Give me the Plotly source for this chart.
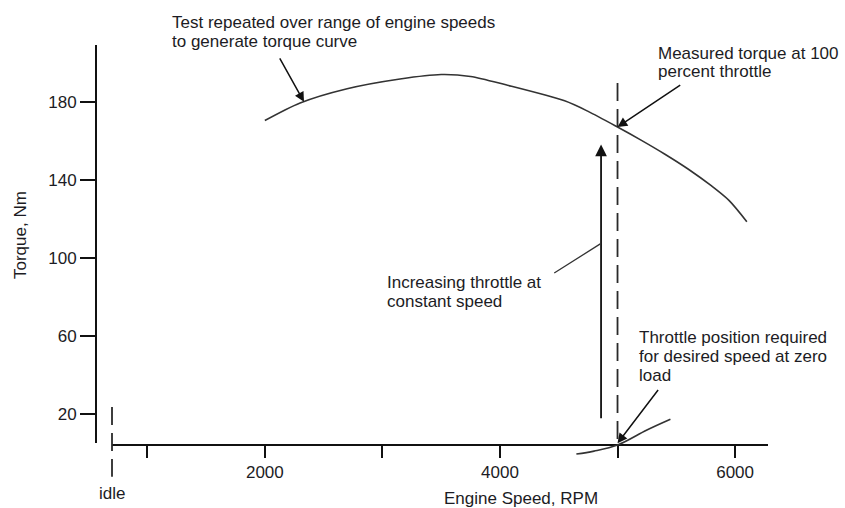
import plotly.graph_objects as go

# ---------------- data ----------------
speed_rpm = [2000, 2300, 2700, 3150, 3500, 3750, 4050, 4550, 4750, 5000, 5200, 5400, 5600, 5800, 5950, 6100]
torque_nm = [170.3, 179.3, 186.6, 191.6, 193.9, 192.9, 188.6, 180.4, 175.0, 167.0, 160.3, 153.2, 145.5, 136.8, 129.3, 118.5]

zero_load_rpm = [4650, 4800, 5000, 5250, 5450]
zero_load_nm = [-0.5, 1.0, 4.1, 11.8, 17.3]

idle_rpm = 700
idle_line_nm = [23.6, -12.1]
test_speed_rpm = 5000
test_line_nm = [189.5, 4.1]
throttle_arrow_rpm = 4860
throttle_arrow_nm = [17.0, 158.0]
measured_torque_nm = 167.0
zero_load_point_nm = 5.0
curve_arrow_rpm = 2333
curve_arrow_nm = 179.9

x_tick_vals = [1000, 2000, 3000, 4000, 5000, 6000]
x_tick_text = ["", "2000", "", "4000", "", "6000"]
y_tick_vals = [20, 60, 100, 140, 180]

# ---------------- geometry ----------------
W, H = 845, 508
XL, XR = 112, 768          # x-axis line extent (px)
XY = 445                   # x-axis line height (px)
YX = 96                    # y-axis line x (px)
YT, YB = 45, 443.3         # y-axis line extent (px)
X_RANGE = [700, 6280]
Y_RANGE = [5, 209]

sx = (XR - XL) / (X_RANGE[1] - X_RANGE[0])
sy = (YB - YT) / (Y_RANGE[1] - Y_RANGE[0])
x2_range = [X_RANGE[0] - XL / sx, X_RANGE[1] + (W - XR) / sx]
y2_range = [Y_RANGE[0] - (H - YB) / sy, Y_RANGE[1] + YT / sy]

def px(x):
    return x / W

def py(y):
    return 1 - y / H

INK = "#1c1c24"
LINE = "#2a2a2a"
FONT = "Liberation Sans, Arial, sans-serif"
FS = 17

fig = go.Figure()

# dummy trace to register the visible axes
fig.add_trace(go.Scatter(x=[None], y=[None], xaxis="x", yaxis="y",
                         showlegend=False, hoverinfo="skip"))

# torque curve
fig.add_trace(go.Scatter(x=speed_rpm, y=torque_nm, mode="lines", xaxis="x2", yaxis="y2",
                         line=dict(color="#333333", width=1.6, shape="spline", smoothing=0.8),
                         showlegend=False, hoverinfo="skip"))
# zero load throttle curve
fig.add_trace(go.Scatter(x=zero_load_rpm, y=zero_load_nm, mode="lines", xaxis="x2", yaxis="y2",
                         line=dict(color="#333333", width=1.6, shape="spline"),
                         showlegend=False, hoverinfo="skip"))
# idle dashed line
fig.add_trace(go.Scatter(x=[idle_rpm, idle_rpm], y=idle_line_nm, mode="lines", xaxis="x2", yaxis="y2",
                         line=dict(color=LINE, width=1.8, dash="18px,8px"),
                         showlegend=False, hoverinfo="skip"))
# dashed line at test speed
fig.add_trace(go.Scatter(x=[test_speed_rpm, test_speed_rpm], y=test_line_nm, mode="lines",
                         xaxis="x2", yaxis="y2",
                         line=dict(color=LINE, width=1.8, dash="18px,8px"),
                         showlegend=False, hoverinfo="skip"))

arrow_style = dict(showarrow=True, arrowhead=2, arrowsize=1.3, arrowwidth=1.5,
                   arrowcolor="#111111", text="", xref="x2", yref="y2", axref="x2", ayref="y2")

annotations = [
    # increasing throttle arrow
    dict(x=throttle_arrow_rpm, y=throttle_arrow_nm[1], ax=throttle_arrow_rpm, ay=throttle_arrow_nm[0],
         **{**arrow_style, "arrowwidth": 1.8}),
    # test repeated -> curve
    dict(x=curve_arrow_rpm, y=curve_arrow_nm, ax=2120, ay=202.9, **arrow_style),
    # measured torque arrow
    dict(x=test_speed_rpm, y=measured_torque_nm, ax=5546, ay=189.0, **arrow_style),
    # zero load arrow
    dict(x=test_speed_rpm, y=zero_load_point_nm, ax=5355, ay=33.1, **arrow_style),
    # leader line for "Increasing throttle"
    dict(x=throttle_arrow_rpm, y=107.4, ax=4449, ay=91.7,
         **{**arrow_style, "arrowhead": 0, "arrowwidth": 1.3, "arrowcolor": "#333333"}),
]

texts = [
    ("Test repeated over range of engine speeds", 170, 22.5),
    ("to generate torque curve", 170, 41.5),
    ("Measured torque at 100", 656, 53),
    ("percent throttle", 656, 72),
    ("Increasing throttle at", 385, 282.5),
    ("constant speed", 385, 301.5),
    ("Throttle position required", 637, 337.5),
    ("for desired speed at zero", 637, 356.5),
    ("load", 637, 375),
]
for t, x, y in texts:
    annotations.append(dict(text=t, x=px(x), y=py(y), xref="paper", yref="paper",
                            xanchor="left", yanchor="middle", showarrow=False,
                            font=dict(family=FONT, size=FS, color=INK)))

annotations.append(dict(text="idle", x=idle_rpm, y=py(493), xref="x2", yref="paper",
                        xanchor="center", yanchor="middle", showarrow=False,
                        font=dict(family=FONT, size=FS, color=INK)))
annotations.append(dict(text="Engine Speed, RPM", x=px(521), y=py(498), xref="paper", yref="paper",
                        xanchor="center", yanchor="middle", showarrow=False,
                        font=dict(family=FONT, size=FS, color=INK)))
annotations.append(dict(text="Torque, Nm", x=px(20), y=py(235), xref="paper", yref="paper",
                        xanchor="center", yanchor="middle", showarrow=False, textangle=-90,
                        font=dict(family=FONT, size=FS, color=INK)))

fig.update_layout(
    width=W, height=H,
    margin=dict(l=0, r=0, t=0, b=0),
    paper_bgcolor="white", plot_bgcolor="rgba(0,0,0,0)",
    showlegend=False,
    annotations=annotations,
    xaxis=dict(domain=[XL / W, XR / W], range=X_RANGE, anchor="free", position=py(XY),
               showline=True, linecolor="#111111", linewidth=1.8,
               ticks="outside", ticklen=12, tickwidth=1.8, tickcolor="#111111",
               tickvals=x_tick_vals, ticktext=x_tick_text, showgrid=False, zeroline=False,
               tickfont=dict(family=FONT, size=FS, color=INK), automargin=False, fixedrange=True),
    yaxis=dict(domain=[py(YB), py(YT)], range=Y_RANGE, anchor="free", position=px(YX),
               showline=True, linecolor="#111111", linewidth=1.8,
               ticks="outside", ticklen=15, tickwidth=1.8, tickcolor="#111111",
               tickvals=y_tick_vals, showgrid=False, zeroline=False,
               tickfont=dict(family=FONT, size=FS, color=INK), automargin=False, fixedrange=True),
    xaxis2=dict(domain=[0, 1], range=x2_range, anchor="y2", visible=False, fixedrange=True),
    yaxis2=dict(domain=[0, 1], range=y2_range, anchor="x2", visible=False, fixedrange=True),
)

fig.write_html("out.html", config={"displayModeBar": False},
               post_script="document.body.style.margin='0';document.body.style.overflow='hidden';")
